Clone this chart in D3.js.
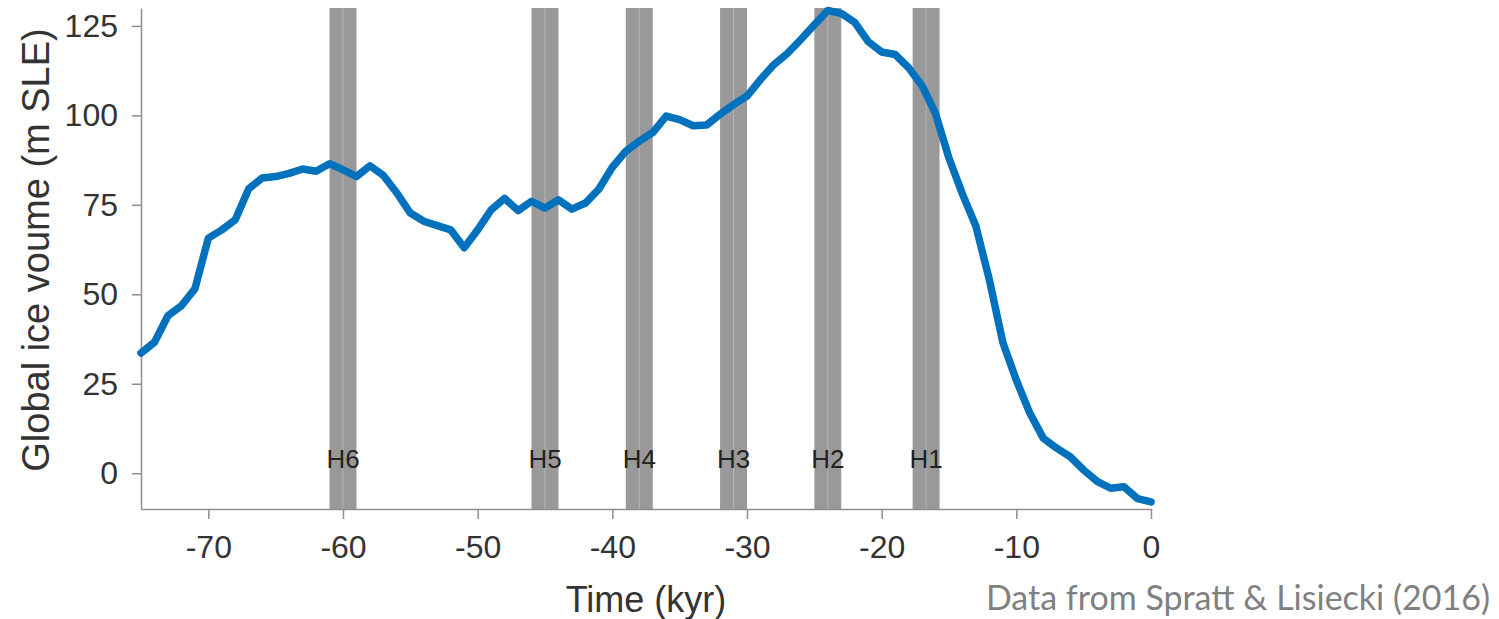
<!DOCTYPE html>
<html>
<head>
<meta charset="utf-8">
<script src="https://cdn.jsdelivr.net/npm/d3@7"></script>
<style>
  body { margin: 0; background: #fff; }
  svg { display: block; }
</style>
</head>
<body>
<div id="chart"></div>
<script>
// time in kyr, one point per kyr
const years = d3.range(-75, 1, 1);
// global ice volume (m SLE)
const iceVolume = [
  33.6, 36.6, 44.0, 46.8, 51.5, 65.7, 68.0, 70.8, 79.5, 82.5,
  82.9, 83.8, 85.0, 84.4, 86.5, 84.8, 82.9, 85.9, 83.2, 78.3,
  72.7, 70.4, 69.2, 68.0, 63.0, 68.0, 73.6, 76.8, 73.4, 76.0,
  74.1, 76.4, 73.8, 75.5, 79.4, 85.5, 90.0, 92.8, 95.2, 99.8,
  98.8, 97.1, 97.3, 100.3, 103.0, 105.4, 110.0, 114.2, 117.3, 121.2,
  125.3, 129.3, 128.5, 126.0, 120.6, 117.7, 117.0, 113.3, 108.3, 100.5,
  88.0, 78.0, 69.0, 54.0, 36.5, 26.0, 16.8, 9.8, 7.0, 4.6,
  0.9, -2.3, -4.2, -3.8, -7.1, -8.0
];
// Heinrich events
const eventNames = ["H6", "H5", "H4", "H3", "H2", "H1"];
const eventStart = [-61, -46, -39, -32, -25, -17.7];
const eventEnd   = [-59, -44, -37, -30, -23, -15.7];

const xTicks = [-70, -60, -50, -40, -30, -20, -10, 0];
const yTicks = [0, 25, 50, 75, 100, 125];

const W = 1499, H = 619;
const margin = {top: 8, right: 348, bottom: 110, left: 141};

const svg = d3.select("#chart").append("svg")
  .attr("width", W).attr("height", H);

const x = d3.scaleLinear().domain([-75, 0]).range([margin.left, W - margin.right]);
const y = d3.scaleLinear().domain([-10, 130]).range([H - margin.bottom, margin.top]);

// event bars
const ev = svg.append("g").selectAll("g")
  .data(eventNames.map((n, i) => ({name: n, a: eventStart[i], b: eventEnd[i]})))
  .enter().append("g");

ev.append("rect")
  .attr("x", d => x(d.a))
  .attr("y", y(130))
  .attr("width", d => x(d.b) - x(d.a))
  .attr("height", y(-10) - y(130))
  .style("fill", "#999999");

ev.append("line")
  .attr("x1", d => x((d.a + d.b) / 2)).attr("x2", d => x((d.a + d.b) / 2))
  .attr("y1", y(130)).attr("y2", y(-10))
  .style("stroke", "#b4b4b4").style("stroke-width", 1);

ev.append("text")
  .attr("x", d => x((d.a + d.b) / 2))
  .attr("y", 468)
  .attr("text-anchor", "middle")
  .style("font-family", "Liberation Sans, Arial, sans-serif")
  .style("font-size", "26px")
  .style("fill", "#222")
  .text(d => d.name);

// axes
const fmt = d => String(d);

const xAxis = svg.append("g")
  .attr("transform", "translate(0," + (H - margin.bottom) + ")")
  .call(d3.axisBottom(x).tickValues(xTicks).tickFormat(fmt)
    .tickSize(10).tickPadding(16).tickSizeOuter(0));

const yAxis = svg.append("g")
  .attr("transform", "translate(" + margin.left + ",0)")
  .call(d3.axisLeft(y).tickValues(yTicks).tickFormat(fmt)
    .tickSize(9).tickPadding(14).tickSizeOuter(0));

[xAxis, yAxis].forEach(a => {
  a.selectAll("path, line").style("stroke", "#8e8e8e").style("stroke-width", 1.5);
  a.selectAll("text")
    .style("font-family", "Liberation Sans, Arial, sans-serif")
    .style("font-size", "32px")
    .style("fill", "#333");
});

// ice volume line
const line = d3.line()
  .x((d, i) => x(years[i]))
  .y(d => y(d));

svg.append("path")
  .datum(iceVolume)
  .attr("d", line)
  .style("fill", "none")
  .style("stroke", "#0072bd")
  .style("stroke-width", 7.5)
  .style("stroke-linejoin", "round")
  .style("stroke-linecap", "round");

// labels
svg.append("text")
  .attr("x", (x(-75) + x(0)) / 2)
  .attr("y", 612)
  .attr("text-anchor", "middle")
  .style("font-family", "Liberation Sans, Arial, sans-serif")
  .style("font-size", "36px")
  .style("fill", "#333")
  .text("Time (kyr)");

svg.append("text")
  .attr("transform", "translate(49," + 250 + ") rotate(-90)")
  .attr("text-anchor", "middle")
  .style("font-family", "Liberation Sans, Arial, sans-serif")
  .style("font-size", "38px")
  .style("fill", "#333")
  .text("Global ice voume (m SLE)");

svg.append("text")
  .attr("x", 1490)
  .attr("y", 610)
  .attr("text-anchor", "end")
  .style("font-family", "Lato, sans-serif")
  .style("font-size", "34px")
  .style("fill", "#808080")
  .text("Data from Spratt & Lisiecki (2016)");
</script>
</body>
</html>
